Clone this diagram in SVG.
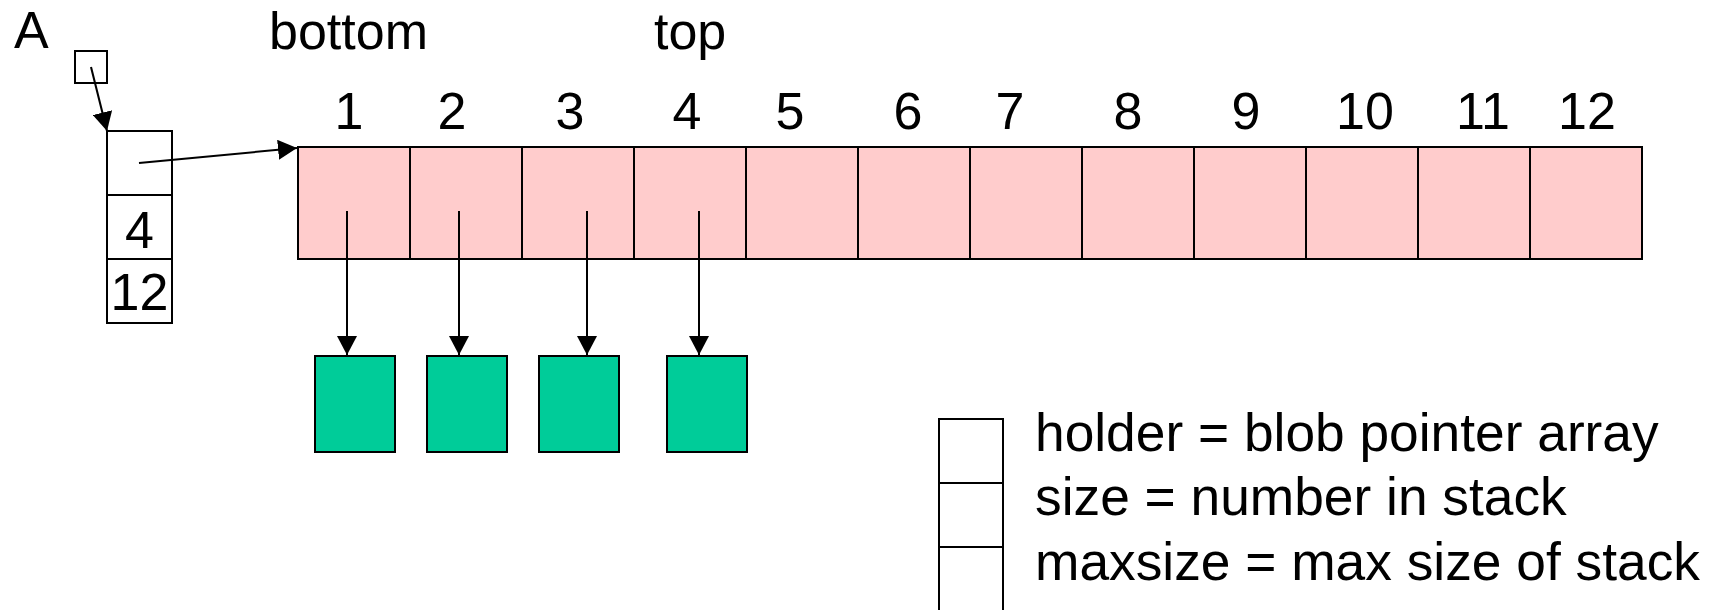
<svg xmlns="http://www.w3.org/2000/svg" width="1719" height="610" viewBox="0 0 1719 610">
<style>
  text { font-family: "Liberation Sans", Arial, sans-serif; font-size: 52px; fill: #000; }
  .box { fill: #fff; stroke: #000; stroke-width: 2; }
  .cell { fill: #FFCCCC; stroke: #000; stroke-width: 2; }
  .blob { fill: #00CC99; stroke: #000; stroke-width: 2; }
  .conn { stroke: #000; stroke-width: 2; fill: none; marker-end: url(#arr); }
  .idx { text-anchor: middle; }
  .leg { font-size: 53.3px; }
</style>
<defs>
  <marker id="arr" viewBox="0 0 19 20" refX="19" refY="10" markerWidth="19" markerHeight="20" markerUnits="userSpaceOnUse" orient="auto">
    <path d="M0,0 L19,10 L0,20 z" fill="#000"/>
  </marker>
</defs>
<rect width="1719" height="610" fill="#fff"/>

<g id="labels">
  <text x="14" y="48">A</text>
  <text x="269" y="49" font-size="54">bottom</text>
  <text x="654" y="49" font-size="53">top</text>
</g>

<g id="pointerA">
  <rect class="box" x="75" y="51" width="32" height="32"/>
</g>

<g id="holder">
  <rect class="box" x="107" y="131" width="65" height="64"/>
  <rect class="box" x="107" y="195" width="65" height="64"/>
  <rect class="box" x="107" y="259" width="65" height="64"/>
  <text x="139.5" y="248" text-anchor="middle">4</text>
  <text x="139.5" y="310" text-anchor="middle">12</text>
</g>

<g id="array">
  <rect class="cell" x="298" y="147" width="112" height="112"/>
  <rect class="cell" x="410" y="147" width="112" height="112"/>
  <rect class="cell" x="522" y="147" width="112" height="112"/>
  <rect class="cell" x="634" y="147" width="112" height="112"/>
  <rect class="cell" x="746" y="147" width="112" height="112"/>
  <rect class="cell" x="858" y="147" width="112" height="112"/>
  <rect class="cell" x="970" y="147" width="112" height="112"/>
  <rect class="cell" x="1082" y="147" width="112" height="112"/>
  <rect class="cell" x="1194" y="147" width="112" height="112"/>
  <rect class="cell" x="1306" y="147" width="112" height="112"/>
  <rect class="cell" x="1418" y="147" width="112" height="112"/>
  <rect class="cell" x="1530" y="147" width="112" height="112"/>
</g>

<g id="indices">
  <text class="idx" x="349" y="129">1</text>
  <text class="idx" x="452" y="129">2</text>
  <text class="idx" x="570" y="129">3</text>
  <text class="idx" x="687" y="129">4</text>
  <text class="idx" x="790" y="129">5</text>
  <text class="idx" x="908" y="129">6</text>
  <text class="idx" x="1010" y="129">7</text>
  <text class="idx" x="1128" y="129">8</text>
  <text class="idx" x="1246" y="129">9</text>
  <text class="idx" x="1365" y="129">10</text>
  <text class="idx" x="1483" y="129">11</text>
  <text class="idx" x="1587" y="129">12</text>
</g>

<g id="blob1"><rect class="blob" x="315" y="356" width="80" height="96"/></g>
<g id="blob2"><rect class="blob" x="427" y="356" width="80" height="96"/></g>
<g id="blob3"><rect class="blob" x="539" y="356" width="80" height="96"/></g>
<g id="blob4"><rect class="blob" x="667" y="356" width="80" height="96"/></g>

<g id="legend">
  <rect class="box" x="939" y="419" width="64" height="64"/>
  <rect class="box" x="939" y="483" width="64" height="64"/>
  <rect class="box" x="939" y="547" width="64" height="64"/>
  <text class="leg" x="1035" y="451">holder = blob pointer array</text>
  <text class="leg" x="1035" y="515">size = number in stack</text>
  <text class="leg" x="1035" y="580">maxsize = max size of stack</text>
</g>

<g id="connectors">
  <line class="conn" x1="91" y1="67" x2="107" y2="131"/>
  <line class="conn" x1="139" y1="163" x2="297" y2="148"/>
  <line class="conn" x1="347" y1="211" x2="347" y2="355"/>
  <line class="conn" x1="459" y1="211" x2="459" y2="355"/>
  <line class="conn" x1="587" y1="211" x2="587" y2="355"/>
  <line class="conn" x1="699" y1="211" x2="699" y2="355"/>
</g>
</svg>
